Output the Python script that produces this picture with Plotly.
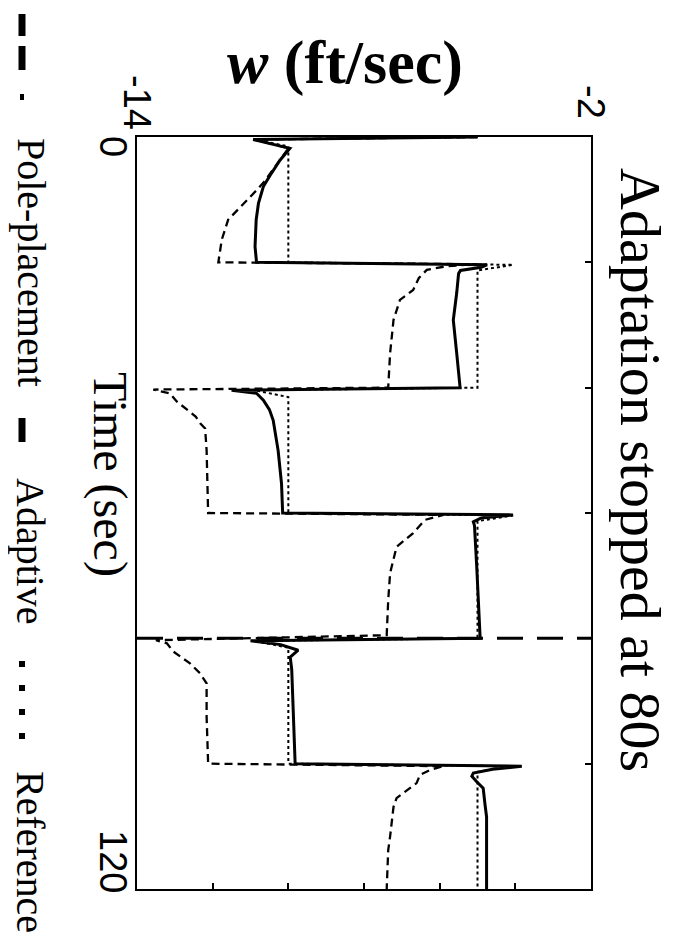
import plotly.graph_objects as go

# ---------------- data ----------------
ref_t = [0, 0.4, 1.5, 20, 20.4, 21.3, 40, 40.4, 41.5, 60, 60.4, 61.3,
         80, 80.4, 81.5, 100, 100.4, 101.3, 120]
ref_w = [-5, -10.9, -10, -10, -4.06, -5, -5, -10.9, -10, -10, -4.06, -5,
         -5, -10.9, -10, -10, -4.06, -5, -5]

ada_t = [0, 0.4, 1.8, 3.7, 6.1, 7.9, 10.6, 13.2, 17.5, 20,
         20.4, 20.8, 21.3, 21.8, 24.9, 29.2, 34.5, 40,
         40.4, 40.9, 42.0, 43.5, 45.2, 50, 55.3, 60,
         60.3, 60.8, 61.4, 62.0, 68.6, 80,
         80.4, 81.0, 81.9, 83.0, 85.0, 92.5, 100,
         100.4, 100.9, 101.5, 102.0, 102.9, 103.9, 106.6, 108.5, 120]
ada_w = [-5, -10.93, -9.96, -10.22, -10.48, -10.66, -10.79, -10.85, -10.88, -10.84,
         -4.75, -4.9, -5.45, -5.5, -5.55, -5.64, -5.55, -5.46,
         -11.5, -10.84, -10.66, -10.5, -10.40, -10.27, -10.18, -10.15,
         -4.06, -4.9, -5.11, -5.08, -5.02, -4.93,
         -11.0, -10.2, -9.74, -9.95, -9.91, -9.87, -9.82,
         -3.83, -4.6, -5.11, -5.15, -5.02, -4.85, -4.8, -4.76, -4.76]

pp_t = [0, 0.4, 1.8, 3.5, 5.3, 7.0, 8.5, 10.0, 11.1, 13.2, 16.4, 20,
        20.3, 20.6, 21.2, 22.5, 24.4, 26.0, 29.2, 34.5, 40,
        40.3, 40.9, 42.2, 44.6, 45.7, 46.5, 50, 60,
        60.3, 61.1, 63.2, 65.4, 69.6, 73.9, 79.5,
        80.3, 80.8, 82.1, 84.0, 85.6, 87.2, 92.5, 100,
        100.4, 101.0, 101.8, 103.1, 105.5, 106.9, 111.6, 113.8, 120]
pp_w = [-5, -10.9, -10.0, -10.2, -10.40, -10.62, -10.84, -11.08, -11.28, -11.59, -11.76, -11.85,
        -5.0, -5.8, -6.34, -6.55, -6.70, -7.05, -7.22, -7.31, -7.36,
        -13.57, -13.13, -12.95, -12.45, -12.33, -12.2, -12.16, -12.12,
        -5.9, -6.39, -6.70, -7.14, -7.31, -7.36, -7.40,
        -13.5, -13.21, -13.04, -12.6, -12.33, -12.16, -12.16, -12.12,
        -5.9, -6.25, -6.52, -6.61, -7.14, -7.22, -7.31, -7.36, -7.40]

stop_t = [80, 80]
stop_w = [-14, -2]

w_range = [-14, -2]
t_range = [0, 120]
w_ticks_inner = [-12, -10, -8, -6, -4]
t_ticks_inner = [20, 40, 60, 80, 100]
w_labels = ["-14", "-2"]
t_labels = ["0", "120"]

# ---------------- figure ----------------
OFF = 8  # page body margin
W, H = 682 - OFF, 945 - OFF
L, T = 137 - OFF, 137 - OFF
PW, PH = 454, 752
R, B = W - L - PW, H - T - PH


def px(x):  # page pixel x -> paper
    return (x - OFF - L) / PW


def py(y):  # page pixel y -> paper
    return (T + PH - (y - OFF)) / PH


fig = go.Figure()
fig.add_trace(go.Scatter(x=pp_w, y=pp_t, mode="lines",
                         line=dict(color="black", width=2.3, dash="8px,5px")))
fig.add_trace(go.Scatter(x=ref_w, y=ref_t, mode="lines",
                         line=dict(color="black", width=2, dash="dot")))
fig.add_trace(go.Scatter(x=ada_w, y=ada_t, mode="lines",
                         line=dict(color="black", width=3)))
fig.add_trace(go.Scatter(x=stop_w, y=stop_t, mode="lines",
                         line=dict(color="black", width=3, dash="26px,14px")))

fig.update_layout(
    width=W, height=H, showlegend=False,
    margin=dict(l=L, r=R, t=T, b=B, pad=0),
    paper_bgcolor="white", plot_bgcolor="white",
    xaxis=dict(range=w_range, showgrid=False, zeroline=False,
               showline=True, mirror=True, linecolor="black", linewidth=2,
               ticks="inside", ticklen=6, tickwidth=1.5, tickcolor="black",
               tickvals=w_ticks_inner, showticklabels=False),
    yaxis=dict(range=[t_range[1], t_range[0]], showgrid=False, zeroline=False,
               showline=True, mirror=True, linecolor="black", linewidth=2,
               side="right",
               ticks="inside", ticklen=6, tickwidth=1.5, tickcolor="black",
               tickvals=t_ticks_inner, showticklabels=False),
)

sans = "Liberation Sans, Arial, sans-serif"
serif = "Liberation Serif, Times New Roman, serif"
C = dict(xanchor="center", yanchor="middle", showarrow=False)

ann = []
# w-axis end labels (above the top border)
for val, lab in zip(w_range, w_labels):
    ann.append(dict(x=val, y=py(102), xref="x", yref="paper", text=lab,
                    textangle=90, font=dict(family=sans, size=38, color="black"), **C))
# time-axis end labels (left of the left border)
ann.append(dict(x=px(113), y=t_range[0], xref="paper", yref="y", yshift=-9,
                text=t_labels[0], textangle=90,
                font=dict(family=sans, size=38, color="black"), **C))
ann.append(dict(x=px(113), y=t_range[1], xref="paper", yref="y", yshift=28,
                text=t_labels[1], textangle=90,
                font=dict(family=sans, size=38, color="black"), **C))
# axis titles
ann.append(dict(x=px(345), y=py(62), xref="paper", yref="paper",
                text="<b><i>w</i> (ft/sec)</b>",
                font=dict(family=serif, size=62, color="black"), **C))
ann.append(dict(x=px(110), y=py(474), xref="paper", yref="paper",
                text="Time (sec)", textangle=90,
                font=dict(family=serif, size=48, color="black"), **C))
# title
ann.append(dict(x=px(641), y=py(470), xref="paper", yref="paper",
                text="Adaptation stopped at 80s", textangle=90,
                font=dict(family=serif, size=58, color="black"), **C))
# legend texts
LX, LS = 31, 40
ann.append(dict(x=px(LX), y=py(262), xref="paper", yref="paper",
                text="Pole-placement", textangle=90,
                font=dict(family=serif, size=LS, color="black"), **C))
ann.append(dict(x=px(LX), y=py(551), xref="paper", yref="paper",
                text="Adaptive", textangle=90,
                font=dict(family=serif, size=LS, color="black"), **C))
ann.append(dict(x=px(LX), y=py(852), xref="paper", yref="paper",
                text="Reference", textangle=90,
                font=dict(family=serif, size=LS, color="black"), **C))
fig.update_layout(annotations=ann)

shapes = []
# legend samples
for y0, y1 in [(14, 36), (46, 70)]:
    shapes.append(dict(type="line", xref="paper", yref="paper",
                       x0=px(22), x1=px(22), y0=py(y0), y1=py(y1),
                       line=dict(color="black", width=7)))
shapes.append(dict(type="line", xref="paper", yref="paper",
                   x0=px(22), x1=px(22), y0=py(94), y1=py(100),
                   line=dict(color="black", width=4)))
shapes.append(dict(type="line", xref="paper", yref="paper",
                   x0=px(22), x1=px(22), y0=py(418), y1=py(442),
                   line=dict(color="black", width=7)))
for yc in [664, 688, 712, 736]:
    shapes.append(dict(type="line", xref="paper", yref="paper",
                       x0=px(22), x1=px(22), y0=py(yc - 3), y1=py(yc + 3),
                       line=dict(color="black", width=6)))
fig.update_layout(shapes=shapes)

fig.write_html("out.html")
